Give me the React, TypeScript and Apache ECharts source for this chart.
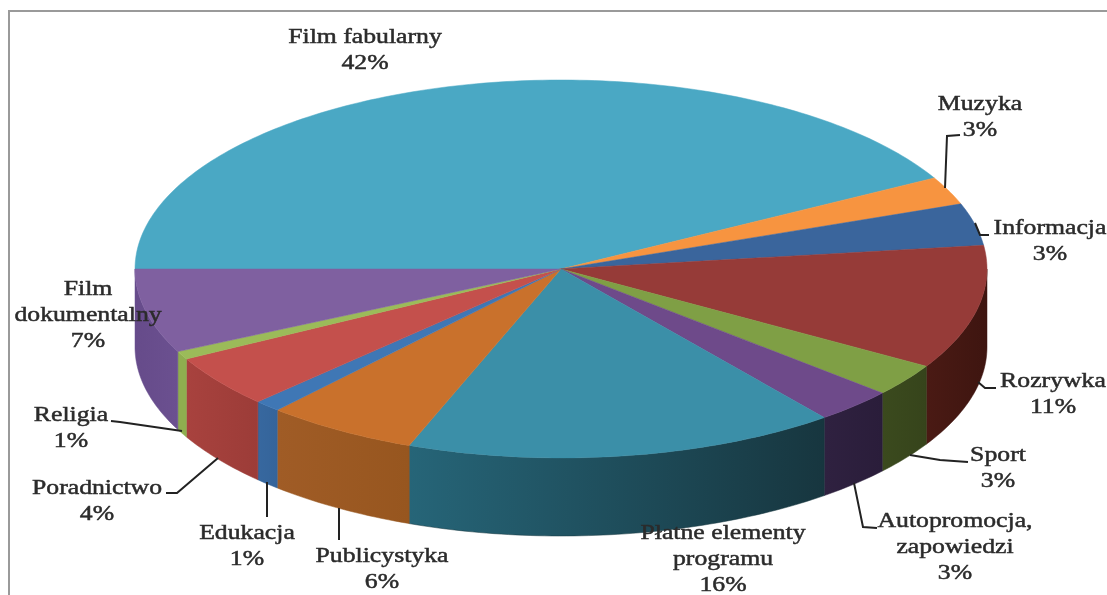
import React, { useEffect, useRef } from "react";
import * as echarts from "echarts";

const categories = ["Film fabularny", "Muzyka", "Informacja", "Rozrywka", "Sport", "Autopromocja, zapowiedzi", "Płatne elementy programu", "Publicystyka", "Edukacja", "Poradnictwo", "Religia", "Film dokumentalny"];
const values = [42, 2.4, 3.6, 10.6, 2.8, 3, 16.4, 5.8, 1, 4.5, 0.7, 7.2];
const percentLabels = ["42%", "3%", "3%", "11%", "3%", "3%", "16%", "6%", "1%", "4%", "1%", "7%"];
const labelLines = [["Film fabularny"], ["Muzyka"], ["Informacja"], ["Rozrywka"], ["Sport"], ["Autopromocja,", "zapowiedzi"], ["Płatne elementy", "programu"], ["Publicystyka"], ["Edukacja"], ["Poradnictwo"], ["Religia"], ["Film", "dokumentalny"]];

const topColors = ["#4aa8c4", "#f79440", "#3a659c", "#963b38", "#7f9f45", "#6e4a8a", "#3b8fa8", "#c9712c", "#3f77b5", "#c4504c", "#9bbb59", "#7f60a0"];
const sideColors: [string, string][] = [
  ["#4aa8c4", "#4aa8c4"], ["#f79440", "#f79440"], ["#3a659c", "#3a659c"],
  ["#4a1a14", "#3e1510"], ["#3b4a1e", "#36441b"], ["#2f2140", "#2a1d3a"],
  ["#266578", "#17363f"], ["#a05c26", "#97561f"], ["#37689f", "#35649a"],
  ["#a8423e", "#9c3c38"], ["#8fae4f", "#8fae4f"], ["#664b8a", "#6b5090"],
];
const labelCenters = [[365, 36], [980, 103], [1050, 227], [1053, 380], [998, 454], [955, 520], [723, 532], [382, 555], [247, 532], [97, 487], [71, 414], [88, 288]];
const leaderLines: number[][][] = [
  [], [[945, 188], [947, 136], [960, 135]], [[975, 223], [980, 235], [989, 235]], [[978, 382], [985, 388], [996, 388]],
  [[910, 455], [940, 460], [968, 462]], [[854, 483], [863, 527], [877, 528]], [], [[339, 508], [339, 540]],
  [[267, 482], [267, 517]], [[218, 458], [177, 493], [166, 493]], [[182, 431], [120, 422], [111, 421]], [],
];

const CX = 561, CY = 269, RX = 426, RY = 189, DEPTH = 78, START = 270;
const LINE_H = 26, FONT = 22, STRETCH = 1.17;
const total = values.reduce((a, b) => a + b, 0);
const point = (deg: number, dy = 0) => {
  const r = (deg * Math.PI) / 180;
  return [CX + RX * Math.sin(r), CY - RY * Math.cos(r) + dy];
};
const arcPath = (from: number, to: number, dy: number) => {
  const n = Math.max(2, Math.ceil(Math.abs(to - from)));
  const out: string[] = [];
  for (let i = 1; i <= n; i++) {
    const [x, y] = point(from + ((to - from) * i) / n, dy);
    out.push(`L${x.toFixed(2)} ${y.toFixed(2)}`);
  }
  return out.join("");
};

function renderItem(params: any, api: any) {
  const i = params.dataIndex;
  let before = 0;
  for (let k = 0; k < i; k++) before += values[k];
  const a0 = START + (before / total) * 360;
  const a1 = a0 + (api.value(0) / total) * 360;
  const children: any[] = [];
  // Visible wall: the part of the slice on the front half of the ellipse
  const ranges: [number, number][] = [];
  for (const shift of [0, -360]) {
    const s = Math.max(a0 + shift, 90);
    const e = Math.min(a1 + shift, 270);
    if (e > s) ranges.push([s, e]);
  }
  ranges.forEach(([s, e]) => {
    const [x0, y0] = point(s);
    const [x1, y1] = point(e, DEPTH);
    children.push({
      type: "path",
      shape: { pathData: `M${x0} ${y0}${arcPath(s, e, 0)}L${x1} ${y1}${arcPath(e, s, DEPTH)}Z` },
      style: {
        fill: { type: "linear", x: 0, y: 0, x2: 1, y2: 0, colorStops: [{ offset: 0, color: sideColors[i][0] }, { offset: 1, color: sideColors[i][1] }] },
        stroke: sideColors[i][1], lineWidth: 0.5,
      },
    });
  });
  const [sx, sy] = point(a0);
  children.push({
    type: "path",
    shape: { pathData: `M${CX} ${CY}L${sx} ${sy}${arcPath(a0, a1, 0)}Z` },
    style: { fill: topColors[i], stroke: topColors[i], lineWidth: 0.5 },
  });
  return { type: "group", children };
}

export default function App() {
  const ref = useRef<HTMLDivElement>(null);
  useEffect(() => {
    const chart = echarts.init(ref.current!, null, { renderer: "svg" });
    const texts: any[] = [];
    categories.forEach((_, i) => {
      const lines = [...labelLines[i], percentLabels[i]];
      lines.forEach((t, j) => {
        texts.push({
          type: "text",
          x: labelCenters[i][0],
          y: labelCenters[i][1] + j * LINE_H,
          scaleX: STRETCH,
          z: 10,
          style: { text: t, fill: "#2b2b2b", font: `${FONT}px "Liberation Serif"`, textAlign: "center", textVerticalAlign: "middle", stroke: "#2b2b2b", lineWidth: 0.5 },
        });
      });
    });
    const lines = leaderLines.filter((l) => l.length).map((pts) => ({
      type: "polyline",
      z: 9,
      shape: { points: pts },
      style: { stroke: "#222", lineWidth: 2, fill: "none" },
    }));
    chart.setOption({
      animation: false,
      backgroundColor: "#ffffff",
      series: [{
        type: "custom",
        coordinateSystem: "none",
        silent: true,
        data: values.map((v, i) => ({ name: categories[i], value: [v] })),
        renderItem,
      }],
      graphic: {
        elements: [
          { type: "polyline", z: 8, shape: { points: [[9, 595], [9, 11], [1107, 11]] }, style: { stroke: "#9a9a9a", lineWidth: 2, fill: "none" } },
          ...lines,
          ...texts,
        ],
      },
    });
    return () => chart.dispose();
  }, []);
  return <div ref={ref} style={{ position: "fixed", left: 0, top: 0, width: 1107, height: 595, filter: "blur(0.6px)" }} />;
}
